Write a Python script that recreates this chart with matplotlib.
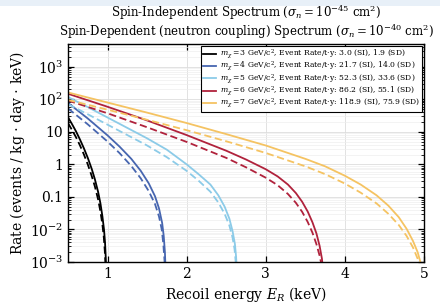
import numpy as np
import matplotlib
matplotlib.use("Agg")
import matplotlib.pyplot as plt
from matplotlib.patches import Rectangle
from matplotlib.ticker import FixedLocator, FuncFormatter, LogLocator, NullFormatter

plt.rcParams['font.family'] = ['DejaVu Serif']
plt.rcParams['mathtext.fontset'] = 'dejavuserif'

# ---- data (energy keV, log10 rate) ----
masses = [3, 4, 5, 6, 7]
rate_si = [3.0, 21.7, 52.3, 86.2, 118.9]
rate_sd = [1.9, 14.0, 33.6, 55.1, 75.9]
colors = ['#000000', '#4766b0', '#8ccbe8', '#b0223c', '#f5c362']
title_lines = ['Spin-Independent Spectrum ($\\sigma_n = 10^{-45}$ cm$^2$)',
               'Spin-Dependent (neutron coupling) Spectrum ($\\sigma_n = 10^{-40}$ cm$^2$)']

E_m3_si = [0.5, 0.55, 0.6, 0.65, 0.7, 0.75, 0.8, 0.84, 0.88, 0.91, 0.935, 0.955, 0.968, 0.977, 0.983, 0.986]
L_m3_si = [1.45, 1.24, 1.02, 0.77, 0.50, 0.20, -0.14, -0.46, -0.84, -1.2, -1.6, -2.0, -2.4, -2.85, -3.4, -4.0]
E_m3_sd = [0.5, 0.55, 0.6, 0.65, 0.7, 0.75, 0.8, 0.84, 0.88, 0.91, 0.935, 0.953, 0.965, 0.974, 0.98, 0.983]
L_m3_sd = [1.27, 1.06, 0.84, 0.59, 0.31, 0.0, -0.36, -0.68, -1.07, -1.45, -1.85, -2.25, -2.65, -3.1, -3.6, -4.0]

E_m4_si = [0.5, 0.75, 1.0, 1.15, 1.3, 1.42, 1.52, 1.6, 1.65, 1.69, 1.71, 1.725, 1.733, 1.738]
L_m4_si = [1.89, 1.41, 0.89, 0.55, 0.17, -0.2, -0.58, -0.98, -1.35, -1.8, -2.2, -2.7, -3.2, -4.0]
E_m4_sd = [0.5, 0.75, 1.0, 1.15, 1.3, 1.42, 1.52, 1.6, 1.65, 1.685, 1.705, 1.72, 1.728, 1.732]
L_m4_sd = [1.72, 1.23, 0.70, 0.35, -0.05, -0.43, -0.82, -1.22, -1.6, -2.0, -2.45, -2.95, -3.5, -4.0]

E_m5_si = [0.5, 0.75, 1.0, 1.25, 1.5, 1.75, 2.0, 2.15, 2.3, 2.4, 2.48, 2.54, 2.58, 2.61, 2.625, 2.635, 2.64]
L_m5_si = [2.07, 1.76, 1.44, 1.12, 0.80, 0.45, 0.0, -0.3, -0.62, -0.95, -1.3, -1.67, -2.05, -2.45, -2.85, -3.3, -4.0]
E_m5_sd = [0.5, 0.75, 1.0, 1.25, 1.5, 1.75, 2.0, 2.15, 2.3, 2.4, 2.48, 2.54, 2.58, 2.605, 2.62, 2.63, 2.635]
L_m5_sd = [1.85, 1.54, 1.22, 0.90, 0.58, 0.22, -0.2, -0.5, -0.84, -1.17, -1.52, -1.88, -2.25, -2.6, -3.0, -3.5, -4.0]

E_m6_si = [0.5, 1.0, 1.5, 2.0, 2.5, 2.75, 3.0, 3.15, 3.28, 3.38, 3.46, 3.53, 3.59, 3.64, 3.68, 3.71, 3.725, 3.735]
L_m6_si = [2.17, 1.77, 1.35, 0.90, 0.42, 0.15, -0.15, -0.37, -0.62, -0.88, -1.15, -1.45, -1.78, -2.12, -2.5, -2.9, -3.3, -4.0]
E_m6_sd = [0.5, 1.0, 1.5, 2.0, 2.5, 2.75, 3.0, 3.15, 3.28, 3.38, 3.46, 3.53, 3.59, 3.64, 3.68, 3.71, 3.73, 3.745]
L_m6_sd = [1.96, 1.57, 1.14, 0.69, 0.20, -0.09, -0.41, -0.64, -0.91, -1.18, -1.46, -1.77, -2.1, -2.45, -2.8, -3.15, -3.5, -4.0]

E_m7_si = [0.5, 1.0, 1.5, 2.0, 2.5, 3.0, 3.5, 3.75, 4.0, 4.2, 4.4, 4.55, 4.68, 4.78, 4.86, 4.92, 4.96, 4.985, 5.0]
L_m7_si = [2.21, 1.90, 1.59, 1.27, 0.93, 0.58, 0.17, -0.06, -0.35, -0.62, -0.95, -1.27, -1.62, -1.98, -2.35, -2.7, -3.05, -3.4, -3.8]
E_m7_sd = [0.5, 1.0, 1.5, 2.0, 2.5, 3.0, 3.5, 3.75, 4.0, 4.2, 4.4, 4.55, 4.68, 4.78, 4.86, 4.92, 4.96, 4.99, 5.0]
L_m7_sd = [1.98, 1.68, 1.37, 1.05, 0.71, 0.35, -0.06, -0.30, -0.59, -0.87, -1.2, -1.52, -1.86, -2.2, -2.55, -2.9, -3.25, -3.7, -4.0]

curves_si = [(E_m3_si, L_m3_si), (E_m4_si, L_m4_si), (E_m5_si, L_m5_si), (E_m6_si, L_m6_si), (E_m7_si, L_m7_si)]
curves_sd = [(E_m3_sd, L_m3_sd), (E_m4_sd, L_m4_sd), (E_m5_sd, L_m5_sd), (E_m6_sd, L_m6_sd), (E_m7_sd, L_m7_sd)]

ytick_vals = [1e-3, 1e-2, 0.1, 1, 10, 1e2, 1e3]
ytick_labels = [r'$10^{-3}$', r'$10^{-2}$', '0.1', '1', '10', r'$10^{2}$', r'$10^{3}$']
xtick_vals = [1, 2, 3, 4, 5]

fig = plt.figure(figsize=(4.4, 3.05), dpi=100)
fig.patches.append(Rectangle((0, 1 - 6 / 305), 1, 6 / 305, transform=fig.transFigure,
                             facecolor='#e8f0f8', edgecolor='none', zorder=-1))
ax = fig.add_axes([68 / 440, 43 / 305, (424 - 68) / 440, (262 - 44) / 305])

for m, si, sd, c, (E1, L1), (E2, L2) in zip(masses, rate_si, rate_sd, colors, curves_si, curves_sd):
    lab = (r'$m_\chi = %d$ GeV/c$^2$, Event Rate/t$\cdot$y: %.1f (SI), %.1f (SD)' % (m, si, sd))
    ax.plot(E1, 10 ** np.array(L1), color=c, lw=1.3, ls='-', label=lab)
    ax.plot(E2, 10 ** np.array(L2), color=c, lw=1.3, ls=(0, (4, 2)))

ax.set_yscale('log')
ax.set_xlim(0.5, 5.0)
ax.set_ylim(1e-3, 5e3)
ax.set_xticks(xtick_vals)
ax.yaxis.set_major_locator(FixedLocator(ytick_vals))
ax.yaxis.set_major_formatter(FuncFormatter(lambda v, p: ytick_labels[ytick_vals.index(v)] if v in ytick_vals else ''))
ax.yaxis.set_minor_locator(LogLocator(base=10, subs=np.arange(2, 10), numticks=20))
ax.yaxis.set_minor_formatter(NullFormatter())
ax.tick_params(which='both', direction='in', top=True, right=True, labelsize=10)
ax.tick_params(which='major', length=4, width=0.9)
ax.tick_params(which='minor', length=2, width=0.6)
ax.grid(True, which='major', color='#dddddd', lw=0.6)
ax.grid(True, which='minor', axis='y', color='#eeeeee', lw=0.5)
for s in ax.spines.values():
    s.set_linewidth(1.0)

ax.set_xlabel(r'Recoil energy $E_R$ (keV)', fontsize=10, labelpad=3)
ax.set_ylabel(r'Rate (events / kg $\cdot$ day $\cdot$ keV)', fontsize=10, labelpad=2)
xc = (68 + 424) / 2 / 440
fig.text(xc, 1 - 17 / 305, title_lines[0], ha='center', va='baseline', fontsize=8.5)
fig.text(xc, 1 - 36 / 305, title_lines[1], ha='center', va='baseline', fontsize=8.5)
leg = ax.legend(loc='upper right', fontsize=5.5, frameon=True, fancybox=False,
                edgecolor='black', framealpha=1.0, handlelength=1.7, borderaxespad=0.25,
                labelspacing=-0.1, handletextpad=0.5, borderpad=0.25)
leg.get_frame().set_linewidth(0.8)

fig.savefig('out.png', dpi=100)
